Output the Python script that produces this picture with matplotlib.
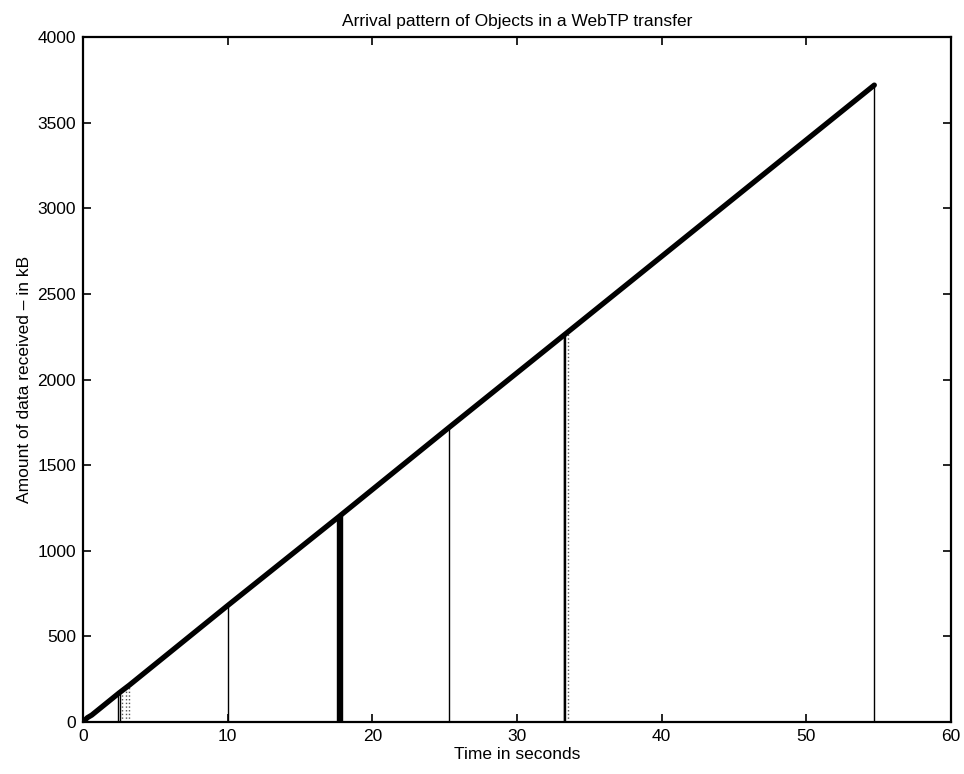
import numpy as np
import matplotlib.pyplot as plt

plt.rcParams['font.family'] = ['Liberation Sans', 'DejaVu Sans']

# cumulative data received (kB) against time (s)
cum_time = [0.0, 0.3, 0.6, 2.5, 3.2, 10.0, 17.7, 25.3, 33.4, 54.7]
cum_kb = [0, 25, 40, 170, 215, 680, 1200, 1720, 2270, 3720]

# object arrivals: solid lines
obj_time = [2.42, 2.55, 10.05, 17.58, 17.63, 17.68, 17.73, 17.78, 17.83, 17.88,
            25.3, 33.24, 33.28, 33.32, 54.7]
obj_kb = [165, 172, 682, 1196, 1199, 1202, 1205, 1208, 1211, 1214,
          1720, 2260, 2263, 2266, 3720]

# object arrivals: dotted lines
dot_time = [2.7, 2.95, 3.2, 33.5]
dot_kb = [183, 200, 215, 2278]

fig = plt.figure(figsize=(9.64, 7.74), dpi=100)
ax = fig.add_axes([0.0861, 0.0672, 0.9004, 0.8848])

ax.vlines(obj_time, 0, obj_kb, color='black', linewidth=1.0)
ax.vlines(dot_time, 0, dot_kb, color='#555555', linewidth=1.0, linestyles=':')
ax.plot(cum_time, cum_kb, color='black', linewidth=3.8, solid_capstyle='round')

ax.set_xlim(0, 60)
ax.set_ylim(0, 4000)
ax.set_xticks(np.arange(0, 61, 10))
ax.set_yticks(np.arange(0, 4001, 500))
ax.tick_params(direction='in', top=True, right=True, length=6, width=1.2,
               labelsize=12.5, pad=5)
for s in ax.spines.values():
    s.set_linewidth(1.6)

ax.set_xlabel('Time in seconds', fontsize=12.5, labelpad=2)
ax.set_ylabel('Amount of data received \u2013 in kB', fontsize=12.5, labelpad=4)
ax.set_title('Arrival pattern of Objects in a WebTP transfer', fontsize=12.5, pad=8)

fig.savefig('out.png', dpi=100)
